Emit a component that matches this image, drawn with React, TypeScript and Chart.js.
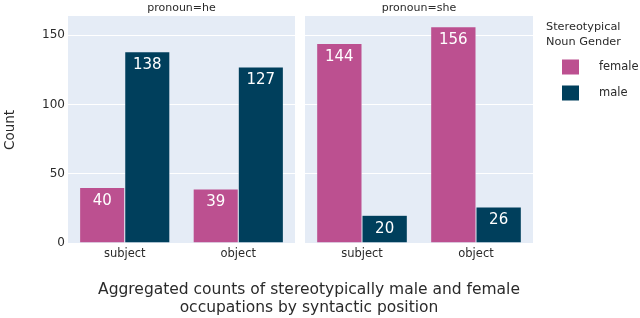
import React, { useEffect, useRef } from "react";
import { Chart, registerables } from "chart.js";

Chart.register(...registerables);

const positions = ["subject", "object"];
const panels = ["pronoun=he", "pronoun=she"];
const genders = ["female", "male"];
const heFemale = [40, 39];
const heMale = [138, 127];
const sheFemale = [144, 156];
const sheMale = [20, 26];
const yTicks = [0, 50, 100, 150];
const colors = ["#bc5090", "#003f5c"];
const legendTitle = ["Stereotypical", "Noun Gender"];
const yTitle = "Count";
const bottomTitle = [
  "Aggregated counts of stereotypically male and female",
  "occupations by syntactic position",
];

const FONT = "'DejaVu Sans', Verdana, sans-serif";
const TEXT = "#2a2a2a";

function makePlugin(panelIndex: number, withYTitle: boolean, withLegend: boolean, offsetX: number) {
  return {
    id: "decor" + panelIndex,
    beforeDraw(chart: any) {
      const { ctx, chartArea } = chart;
      ctx.save();
      ctx.fillStyle = "#E5ECF6";
      ctx.fillRect(chartArea.left, chartArea.top, chartArea.right - chartArea.left, chartArea.bottom - chartArea.top);
      ctx.restore();
    },
    afterDatasetsDraw(chart: any) {
      const { ctx } = chart;
      ctx.save();
      ctx.fillStyle = "#ffffff";
      ctx.font = `15px ${FONT}`;
      ctx.textAlign = "center";
      ctx.textBaseline = "middle";
      chart.data.datasets.forEach((ds: any, di: number) => {
        const meta = chart.getDatasetMeta(di);
        meta.data.forEach((bar: any, i: number) => {
          ctx.fillText(String(ds.data[i]), bar.x, bar.y + 13.5);
        });
      });
      ctx.restore();
    },
    afterDraw(chart: any) {
      const { ctx, chartArea } = chart;
      ctx.save();
      ctx.fillStyle = TEXT;
      ctx.font = `11px ${FONT}`;
      ctx.textAlign = "center";
      ctx.textBaseline = "middle";
      ctx.fillText(panels[panelIndex], (chartArea.left + chartArea.right) / 2, 8);
      if (withYTitle) {
        ctx.save();
        ctx.translate(10, 130);
        ctx.rotate(-Math.PI / 2);
        ctx.font = `13.5px ${FONT}`;
        ctx.fillText(yTitle, 0, 0);
        ctx.restore();
      }
      if (withLegend) {
        ctx.textAlign = "left";
        ctx.font = `11.3px ${FONT}`;
        ctx.fillText(legendTitle[0], 546 - offsetX, 27);
        ctx.fillText(legendTitle[1], 546 - offsetX, 42);
        ctx.font = `11.5px ${FONT}`;
        genders.forEach((g, k) => {
          const cy = 67 + k * 26;
          ctx.fillStyle = colors[k];
          ctx.fillRect(562 - offsetX, cy - 7.5, 17, 15);
          ctx.fillStyle = TEXT;
          ctx.fillText(g, 599 - offsetX, cy);
        });
      }
      ctx.restore();
    },
  };
}

function buildChart(
  canvas: HTMLCanvasElement,
  panelIndex: number,
  female: number[],
  male: number[],
  showY: boolean,
  padRight: number,
  offsetX: number
) {
  const mk = (label: string, data: number[], color: string) => ({
    label,
    data,
    backgroundColor: color,
    borderColor: "#E5ECF6",
    borderWidth: 0.5,
    categoryPercentage: 0.795,
    barPercentage: 1,
  });
  return new Chart(canvas, {
    type: "bar",
    data: {
      labels: positions,
      datasets: [mk(genders[0], female, colors[0]), mk(genders[1], male, colors[1])],
    },
    options: {
      animation: false,
      responsive: false,
      layout: { padding: { left: 0, right: padRight, top: 16, bottom: 55 } },
      plugins: { legend: { display: false }, tooltip: { enabled: false } },
      scales: {
        x: {
          type: "category",
          grid: { display: false, drawTicks: false },
          border: { display: false },
          ticks: { color: TEXT, font: { family: FONT, size: 11.5 }, padding: 4 },
          afterFit: (s: any) => { s.height = 20; },
        },
        y: {
          min: 0,
          max: 163.8,
          afterBuildTicks: (s: any) => { s.ticks = yTicks.map((v) => ({ value: v })); },
          grid: { color: "#ffffff", lineWidth: 1, drawTicks: false },
          border: { display: false },
          ticks: { display: showY, color: TEXT, font: { family: FONT, size: 12 }, padding: 3 },
          afterFit: (s: any) => { s.width = showY ? 68 : 5; },
        },
      },
    },
    plugins: [makePlugin(panelIndex, showY, !showY, offsetX)],
  } as any);
}

export default function App() {
  const refA = useRef<HTMLCanvasElement | null>(null);
  const refB = useRef<HTMLCanvasElement | null>(null);
  useEffect(() => {
    if (!refA.current || !refB.current) return;
    const a = buildChart(refA.current, 0, heFemale, heMale, true, 5, 0);
    const b = buildChart(refB.current, 1, sheFemale, sheMale, false, 107, 300);
    return () => {
      a.destroy();
      b.destroy();
    };
  }, []);
  return (
    <div style={{ position: "fixed", left: 0, top: 0, width: 640, height: 318, background: "#fff" }}>
      <canvas ref={refA} width={300} height={318} style={{ position: "absolute", left: 0, top: 0 }} />
      <canvas ref={refB} width={340} height={318} style={{ position: "absolute", left: 300, top: 0 }} />
      <div
        style={{
          position: "absolute",
          left: 0,
          top: 280,
          width: 618,
          textAlign: "center",
          fontFamily: FONT,
          fontSize: 15.5,
          lineHeight: "18px",
          color: TEXT,
        }}
      >
        {bottomTitle[0]}
        <br />
        {bottomTitle[1]}
      </div>
    </div>
  );
}
